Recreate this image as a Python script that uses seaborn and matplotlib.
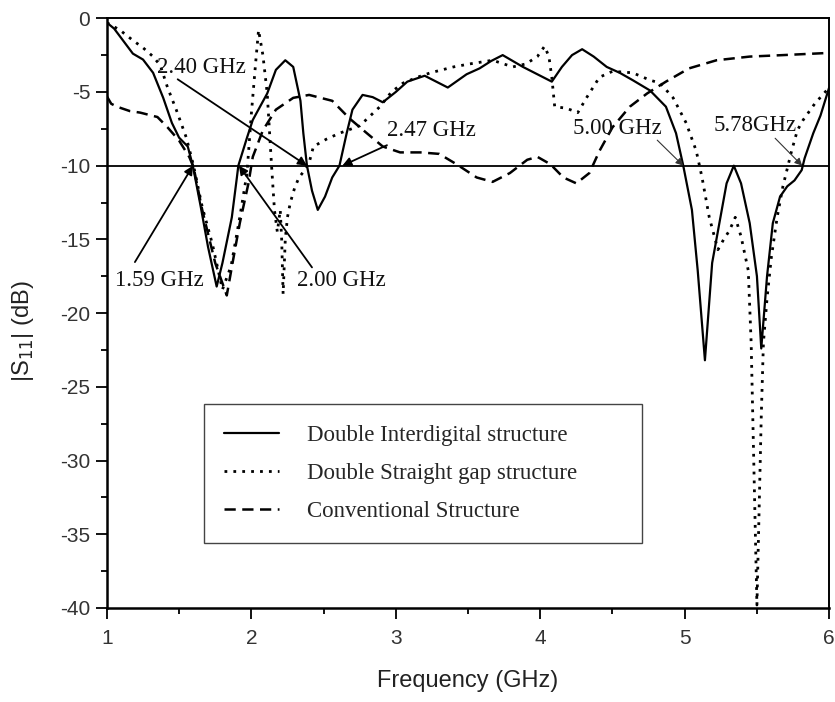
import matplotlib
matplotlib.use("Agg")
import matplotlib.pyplot as plt
from matplotlib.lines import Line2D
from matplotlib.ticker import MultipleLocator
import seaborn as sns
import pandas as pd

# ---------------- data ----------------
interdigital_f = [1.00, 1.05, 1.18, 1.25, 1.32, 1.39, 1.45, 1.50, 1.56, 1.595, 1.65, 1.70, 1.76,
                  1.80, 1.865, 1.90, 1.91, 1.97, 2.01, 2.11, 2.17, 2.235, 2.29, 2.34, 2.36, 2.385,
                  2.42, 2.46, 2.51, 2.56, 2.61, 2.66, 2.70, 2.77, 2.84, 2.91, 3.00, 3.08, 3.20,
                  3.36, 3.49, 3.58, 3.66, 3.74, 3.81, 3.88, 3.98, 4.08, 4.15, 4.22, 4.29, 4.37,
                  4.46, 4.55, 4.64, 4.76, 4.87, 4.94, 4.99, 5.05, 5.09, 5.14, 5.19, 5.24, 5.29,
                  5.34, 5.39, 5.45, 5.50, 5.53, 5.57, 5.61, 5.66, 5.71, 5.76, 5.81, 5.83, 5.89,
                  5.94, 6.00]
interdigital_db = [-0.3, -0.7, -2.4, -2.8, -3.7, -5.4, -7.1, -8.1, -8.7, -10.0, -12.8, -15.5, -18.2,
                   -16.6, -13.5, -10.8, -10.0, -8.1, -6.9, -5.1, -3.5, -2.85, -3.3, -5.6, -7.8, -10.0,
                   -11.7, -13.0, -12.1, -10.8, -10.0, -7.8, -6.2, -5.2, -5.35, -5.7, -5.0, -4.3, -3.9,
                   -4.7, -3.8, -3.4, -2.9, -2.5, -2.9, -3.3, -3.8, -4.3, -3.3, -2.5, -2.1, -2.6,
                   -3.3, -3.7, -4.2, -4.9, -6.0, -7.8, -10.0, -13.0, -17.1, -23.2, -16.6, -13.9, -11.2,
                   -10.0, -11.2, -13.9, -17.5, -22.4, -17.5, -13.9, -12.1, -11.4, -11.0, -10.3, -9.5, -7.8,
                   -6.6, -4.7]

straight_f = [1.00, 1.09, 1.18, 1.25, 1.32, 1.37, 1.42, 1.48, 1.55, 1.60, 1.66, 1.73, 1.80, 1.86,
              1.92, 1.97, 2.00, 2.03, 2.05, 2.08, 2.11, 2.14, 2.16, 2.18, 2.20, 2.21, 2.22, 2.235,
              2.25, 2.27, 2.30, 2.33, 2.37, 2.40, 2.43, 2.52, 2.61, 2.75, 2.89, 2.97, 3.05, 3.15,
              3.24, 3.40, 3.51, 3.67, 3.81, 3.90, 3.98, 4.03, 4.06, 4.08, 4.10, 4.18, 4.26, 4.32,
              4.41, 4.50, 4.64, 4.76, 4.83, 4.92, 5.01, 5.08, 5.12, 5.17, 5.23, 5.27, 5.31, 5.35,
              5.39, 5.44, 5.46, 5.50, 5.53, 5.545, 5.57, 5.60, 5.64, 5.68, 5.74, 5.78, 5.82, 5.90,
              6.00]
straight_db = [-0.3, -0.8, -1.5, -2.0, -2.6, -3.2, -4.7, -6.2, -8.1, -10.0, -12.8, -15.3, -18.4, -16.8,
               -13.5, -10.5, -6.5, -3.0, -0.8, -2.5, -5.1, -10.0, -13.0, -14.5, -13.0, -15.0, -18.7, -15.0,
               -13.5, -12.5, -11.5, -10.8, -10.3, -9.8, -8.7, -8.2, -7.8, -7.3, -6.0, -5.0, -4.4, -4.0,
               -3.7, -3.3, -3.1, -2.85, -3.3, -3.1, -2.6, -1.9, -2.6, -4.0, -6.0, -6.1, -6.4, -5.4,
               -4.0, -3.6, -3.7, -4.2, -4.4, -5.4, -7.1, -9.0, -10.8, -13.5, -15.7, -15.0, -14.4, -13.5,
               -14.8, -17.1, -22.0, -39.8, -27.0, -22.0, -19.0, -16.2, -13.5, -11.4, -9.0, -7.6, -6.9, -5.8,
               -4.7]

conventional_f = [1.00, 1.03, 1.07, 1.16, 1.23, 1.35, 1.42, 1.50, 1.57, 1.60, 1.66, 1.75, 1.83, 1.87,
                  1.92, 1.98, 2.01, 2.08, 2.17, 2.29, 2.40, 2.56, 2.68, 2.80, 2.91, 3.03, 3.17, 3.30,
                  3.42, 3.56, 3.67, 3.79, 3.91, 3.98, 4.07, 4.16, 4.25, 4.34, 4.41, 4.50, 4.62, 4.74,
                  4.87, 5.03, 5.22, 5.45, 5.68, 6.00]
conventional_db = [-5.3, -5.8, -6.0, -6.3, -6.4, -6.7, -7.4, -8.3, -9.4, -10.1, -13.0, -16.6, -18.8, -16.6,
                   -13.9, -11.2, -9.4, -7.6, -6.2, -5.4, -5.2, -5.6, -6.8, -7.8, -8.7, -9.1, -9.1, -9.2,
                   -9.9, -10.8, -11.1, -10.5, -9.6, -9.4, -9.9, -10.8, -11.2, -10.5, -9.0, -7.4, -6.0, -5.1,
                   -4.3, -3.4, -2.85, -2.6, -2.5, -2.35]

series_names = ["Double Interdigital structure", "Double Straight gap structure", "Conventional Structure"]
x_ticks = [1, 2, 3, 4, 5, 6]
y_ticks = [0, -5, -10, -15, -20, -25, -30, -35, -40]
threshold_db = -10

# annotation labels: (text, arrow tip, text pos, arrow tail, thin arrow)
annotations = [
    ("2.40 GHz", (2.385, -10.0), (1.346, -3.32), (1.49, -4.14), False),
    ("2.47 GHz", (2.63, -10.0), (2.939, -7.59), (2.939, -8.61), False),
    ("1.59 GHz", (1.596, -10.0), (1.055, -17.76), (1.194, -16.54), False),
    ("2.00 GHz", (1.914, -10.0), (2.316, -17.76), (2.42, -16.9), False),
    ("5.00 GHz", (4.99, -10.0), (4.227, -7.46), (4.81, -8.27), True),
    ("5.78GHz", (5.813, -10.0), (5.197, -7.25), (5.626, -8.14), True),
]

# ---------------- styling ----------------
sns.set_theme(style="ticks")
plt.rcParams["font.family"] = ["Liberation Sans", "DejaVu Sans"]
plt.rcParams["axes.edgecolor"] = "black"
plt.rcParams["axes.unicode_minus"] = False

fig = plt.figure(figsize=(8.35, 7.02), dpi=100)
ax = fig.add_axes([0.128, 0.134, 0.865, 0.840])

styles = ["-", (0, (1, 2.2)), (0, (4.5, 2.6))]
widths = [1.6, 2.0, 1.8]
data_f = [interdigital_f, straight_f, conventional_f]
data_db = [interdigital_db, straight_db, conventional_db]

for name, f, db, ls, lw in zip(series_names, data_f, data_db, styles, widths):
    df = pd.DataFrame({"f": f, "db": db})
    sns.lineplot(data=df, x="f", y="db", ax=ax, color="black", linestyle=ls,
                 linewidth=lw, estimator=None, sort=False, legend=False)

ax.axhline(threshold_db, color="black", lw=1.3, zorder=1)

ax.set_xlim(1, 6)
ax.set_ylim(-40, 0)
ax.set_xticks(x_ticks)
ax.set_yticks(y_ticks)
ax.xaxis.set_minor_locator(MultipleLocator(0.5))
ax.yaxis.set_minor_locator(MultipleLocator(2.5))
ax.tick_params(which="major", direction="out", length=8, width=1.3, labelsize=15,
               labelcolor="#333333", color="black", pad=4)
ax.tick_params(axis="x", which="major", pad=7)
ax.tick_params(which="minor", direction="out", length=4.5, width=1.3, color="black")
for side in ["left", "bottom"]:
    ax.spines[side].set_linewidth(1.8)
for side in ["top", "right"]:
    ax.spines[side].set_linewidth(1.4)

ax.set_xlabel("Frequency (GHz)", fontsize=17, color="#222222")
ax.set_ylabel("|S$_{11}$| (dB)", fontsize=17, color="#222222")
ax.xaxis.set_label_coords(0.5, -0.105)
ax.yaxis.set_label_coords(-0.098, 0.47)

serif = ["Liberation Serif", "DejaVu Serif"]
for text, tip, tpos, tail, thin in annotations:
    ax.text(tpos[0], tpos[1], text, fontsize=16.5, family=serif, ha="left", va="center",
            color="#111111", zorder=5)
    ax.annotate("", xy=tip, xytext=tail,
                arrowprops=dict(arrowstyle="-|>", color="#333333" if thin else "black",
                                lw=0.8 if thin else 1.3, mutation_scale=11 if thin else 13,
                                shrinkA=0, shrinkB=0), zorder=6)

handles = [Line2D([0], [0], color="black", linestyle=ls, lw=lw) for ls, lw in zip(styles, widths)]
leg = ax.legend(handles, series_names, loc="upper left", bbox_to_anchor=(0.134, 0.107, 0.607, 0.239),
                mode="expand", frameon=True, fancybox=False, shadow=False, framealpha=1,
                edgecolor="#444444", prop={"family": serif, "size": 16.5},
                handlelength=2.4, handletextpad=1.2, borderpad=0.9, labelspacing=0.75,
                borderaxespad=0)
leg.get_frame().set_linewidth(1.0)

fig.savefig("out.png", dpi=100)
